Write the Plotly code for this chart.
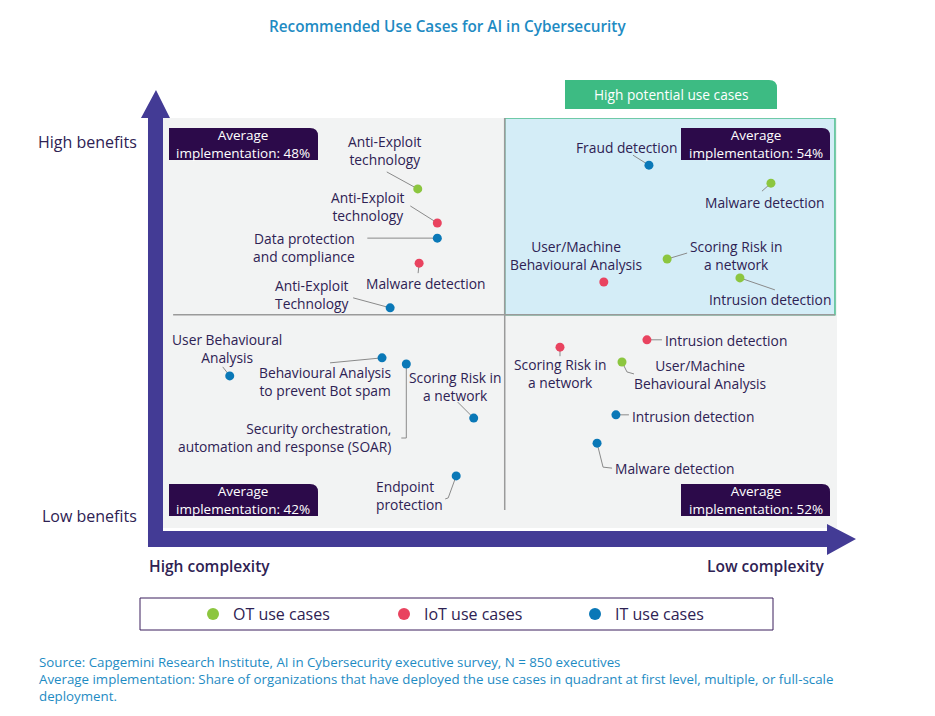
import plotly.graph_objects as go

# the page body has an 8px margin: the figure is sized to fit the window exactly
PAGE_OFF = 8
W, H = 935 - PAGE_OFF, 716 - PAGE_OFF

# ---------------- data ----------------
categories = ["OT", "IoT", "IT"]
cat_names = {"OT": "OT use cases", "IoT": "IoT use cases", "IT": "IT use cases"}

use_cases = [
    "Anti-Exploit<br>technology", "Anti-Exploit<br>technology", "Data protection<br>and compliance",
    "Malware detection", "Anti-Exploit<br>Technology",
    "Fraud detection", "Malware detection", "Scoring Risk in<br>a network",
    "User/Machine<br>Behavioural Analysis", "Intrusion detection",
    "User Behavioural<br>Analysis", "Behavioural Analysis<br>to prevent Bot spam",
    "Security orchestration,<br>automation and response (SOAR)", "Scoring Risk in<br>a network",
    "Endpoint<br>protection",
    "Scoring Risk in<br>a network", "Intrusion detection", "User/Machine<br>Behavioural Analysis",
    "Intrusion detection", "Malware detection",
]
case_type = ["OT", "IoT", "IT", "IoT", "IT",
             "IT", "OT", "OT", "IoT", "OT",
             "IT", "IT", "IT", "IT", "IT",
             "IoT", "IoT", "OT", "IT", "IT"]
# x: complexity (0 = high complexity, 10 = low complexity); y: benefits (0 = low, 10 = high)
ease = [3.78, 4.07, 4.07, 3.80, 3.37,
        7.21, 9.02, 7.48, 6.54, 8.56,
        0.99, 3.25, 3.61, 4.61, 4.35,
        5.89, 7.18, 6.81, 6.72, 6.44]
benefit = [8.27, 7.44, 7.07, 6.46, 5.37,
           8.85, 8.41, 6.56, 6.00, 6.10,
           3.71, 4.15, 4.00, 2.68, 1.27,
           4.41, 4.59, 4.05, 2.76, 2.07]

quadrants = ["TL", "TR", "BL", "BR"]
avg_implementation = [48, 54, 42, 52]

title_text = "Recommended Use Cases for AI in Cybersecurity"
source_lines = [
    "Source: Capgemini Research Institute, AI in Cybersecurity executive survey, N = 850 executives",
    "Average implementation: Share of organizations that have deployed the use cases in quadrant at first level, multiple, or full-scale",
    "deployment.",
]

# ---------------- styles / layout ----------------
COLORS = {"OT": "#8CC63F", "IoT": "#E9435F", "IT": "#0A78B7"}
PURPLE = "#433B95"
DARK = "#2C0A4A"
TEXT = "#2E2253"
BLUE_T = "#1E8BC3"
FONT = "Open Sans"

PLOT_L, PLOT_R, PLOT_T, PLOT_B = 163, 837, 118, 528
MID_X, MID_Y = 5.07, 5.2
KX = 10.0 / (PLOT_R - PLOT_L)
KY = 10.0 / (PLOT_B - PLOT_T)

# label placement per use case: (xanchor, dx, dy, leader offsets in px relative to the dot)
label_layout = [
    ("center", -33, -38, [(-31, -17)]),
    ("center", -69, -16, [(-27, -17)]),
    ("right", -80, 9, [(-70, 0)]),
    ("center", 7, 20, [(-1, 10)]),
    ("center", -78, -13, [(-37, -10)]),
    ("center", -22, -18, [(-16, -10)]),
    ("center", -6, 19, [(-9, 8)]),
    ("center", 69, -4, [(20, -6)]),
    ("center", -28, -27, []),
    ("center", 30, 22, [(35, 12)]),
    ("center", -3, -27, [(-7, -9)]),
    ("center", -57, 24, [(-52, 5)]),
    ("right", -13, 73, [(0, 74), (-5, 74)]),
    ("center", -19, -32, [(-16, -16)]),
    ("left", -82, 20, [(-8, 22), (-11, 23)]),
    ("center", 0, 26, [(0, 9)]),
    ("left", 16, 1, [(15, 0)]),
    ("center", 78, 13, [(5, 10), (12, 12)]),
    ("left", 14, 2, [(13, 0)]),
    ("left", 16, 25, [(6, 24), (15, 25)]),
]


def X(p):
    return (p - PAGE_OFF) / W


def Y(p):
    return 1 - (p - PAGE_OFF) / H


def path(points):
    return "M " + " L ".join(f"{X(a):.5f},{Y(b):.5f}" for a, b in points) + " Z"


def rounded_box(l, t, r, b, rad=8):
    return (f"M {X(l):.5f},{Y(b):.5f} L {X(l):.5f},{Y(t):.5f} L {X(r-rad):.5f},{Y(t):.5f} "
            f"Q {X(r):.5f},{Y(t):.5f} {X(r):.5f},{Y(t+rad):.5f} L {X(r):.5f},{Y(b):.5f} Z")


fig = go.Figure()

# leader lines
lx, ly = [], []
for i, (_, _, _, leader) in enumerate(label_layout):
    if not leader:
        continue
    lx.append(ease[i]); ly.append(benefit[i])
    for dx, dy in leader:
        lx.append(ease[i] + dx * KX)
        ly.append(benefit[i] - dy * KY)
    lx.append(None); ly.append(None)
fig.add_trace(go.Scatter(x=lx, y=ly, mode="lines", line=dict(color="#8a8a8a", width=1),
                         hoverinfo="skip", showlegend=False))

for c in categories:
    idx = [i for i, t in enumerate(case_type) if t == c]
    fig.add_trace(go.Scatter(
        x=[ease[i] for i in idx], y=[benefit[i] for i in idx],
        mode="markers", name=cat_names[c],
        marker=dict(color=COLORS[c], size=9),
        text=[use_cases[i].replace("<br>", " ") for i in idx],
        hovertemplate="%{text}<extra>" + cat_names[c] + "</extra>",
    ))

shapes = []
# quadrant backgrounds
shapes.append(dict(type="rect", xref="x", yref="y", x0=0, x1=10, y0=-0.1, y1=10,
                   fillcolor="#F2F3F3", line=dict(width=0), layer="below"))
shapes.append(dict(type="rect", xref="x", yref="y", x0=MID_X, x1=9.97, y0=MID_Y, y1=10,
                   fillcolor="#D4EDF7", line=dict(color="#4DBE8E", width=1.5), layer="below"))
# quadrant dividers
shapes.append(dict(type="line", xref="x", yref="y", x0=0.15, x1=9.97, y0=MID_Y, y1=MID_Y,
                   line=dict(color="#9a9a9a", width=1.5), layer="below"))
shapes.append(dict(type="line", xref="x", yref="y", x0=MID_X, x1=MID_X, y0=0.44, y1=10,
                   line=dict(color="#9a9a9a", width=1.5), layer="below"))
# axes arrows
arrow_pts = [(148, 547), (148, 118), (141, 118), (156, 90), (170, 118), (163, 118), (163, 531),
             (827, 531), (827, 524), (856, 539), (827, 555), (827, 547)]
shapes.append(dict(type="path", xref="paper", yref="paper", path=path(arrow_pts),
                   fillcolor=PURPLE, line=dict(width=0)))
# high potential box
shapes.append(dict(type="path", xref="paper", yref="paper", path=rounded_box(565, 80, 777, 109),
                   fillcolor="#3DBB83", line=dict(width=0)))
# average implementation boxes
box_px = {"TL": (169, 128, 318, 160), "TR": (681, 128, 830, 160),
          "BL": (169, 484, 318, 516), "BR": (681, 484, 830, 516)}
annotations = []
for q, v in zip(quadrants, avg_implementation):
    l, t, r, b = box_px[q]
    shapes.append(dict(type="path", xref="paper", yref="paper", path=rounded_box(l, t, r, b),
                       fillcolor=DARK, line=dict(width=0)))
    annotations.append(dict(xref="paper", yref="paper", x=X((l + r) / 2), y=Y((t + b) / 2),
                            text=f"Average<br>implementation: {v}%", showarrow=False,
                            font=dict(family=FONT, size=13.5, color="white"),
                            xanchor="center", yanchor="middle", align="center"))
# legend box
shapes.append(dict(type="rect", xref="paper", yref="paper", x0=X(140), x1=X(773), y0=Y(598), y1=Y(630),
                   line=dict(color="#3A1F5C", width=1), fillcolor="rgba(0,0,0,0)"))

# point labels
for i, (anchor, dx, dy, _) in enumerate(label_layout):
    annotations.append(dict(x=ease[i], y=benefit[i], xref="x", yref="y", text=use_cases[i],
                            showarrow=False, xshift=dx, yshift=-dy, xanchor=anchor, yanchor="middle",
                            align="right" if anchor == "right" else ("left" if anchor == "left" else "center"),
                            font=dict(family=FONT, size=13.8, color=TEXT)))

# texts
annotations.append(dict(xref="paper", yref="paper", x=X(447), y=Y(26), text=title_text, showarrow=False,
                        font=dict(family=FONT, size=15.3, color=BLUE_T, weight=600),
                        xanchor="center", yanchor="middle"))
annotations.append(dict(xref="paper", yref="paper", x=X(671), y=Y(94), text="High potential use cases",
                        showarrow=False, font=dict(family=FONT, size=13.7, color="white"),
                        xanchor="center", yanchor="middle"))
for txt, yy in [("High benefits", 142), ("Low benefits", 516)]:
    annotations.append(dict(xref="paper", yref="paper", x=X(139), y=Y(yy), text=txt, showarrow=False,
                            font=dict(family=FONT, size=16, color=TEXT), xanchor="right", yanchor="middle"))
annotations.append(dict(xref="paper", yref="paper", x=X(147), y=Y(566), text="High complexity", showarrow=False,
                        font=dict(family=FONT, size=15.5, color=TEXT, weight=600), xanchor="left", yanchor="middle"))
annotations.append(dict(xref="paper", yref="paper", x=X(826), y=Y(566), text="Low complexity", showarrow=False,
                        font=dict(family=FONT, size=15.5, color=TEXT, weight=600), xanchor="right", yanchor="middle"))
for txt, yy in zip(source_lines, [662, 679, 696]):
    annotations.append(dict(xref="paper", yref="paper", x=X(37), y=Y(yy), text=txt, showarrow=False,
                            font=dict(family=FONT, size=13.3, color=BLUE_T), xanchor="left", yanchor="middle"))

fig.update_layout(
    width=W, height=H, autosize=False,
    margin=dict(l=0, r=0, t=0, b=0, pad=0),
    paper_bgcolor="white", plot_bgcolor="rgba(0,0,0,0)",
    xaxis=dict(domain=[X(PLOT_L), X(PLOT_R)], range=[0, 10], visible=False, fixedrange=True),
    yaxis=dict(domain=[Y(PLOT_B), Y(PLOT_T)], range=[0, 10], visible=False, fixedrange=True),
    shapes=shapes, annotations=annotations,
    showlegend=True,
    legend=dict(orientation="h", x=X(193), xanchor="left", y=Y(614), yanchor="middle",
                entrywidth=146, entrywidthmode="pixels", itemsizing="constant",
                font=dict(family=FONT, size=16, color=TEXT), bgcolor="rgba(0,0,0,0)", borderwidth=0),
    hovermode="closest",
)

fig.write_html("out.html")
